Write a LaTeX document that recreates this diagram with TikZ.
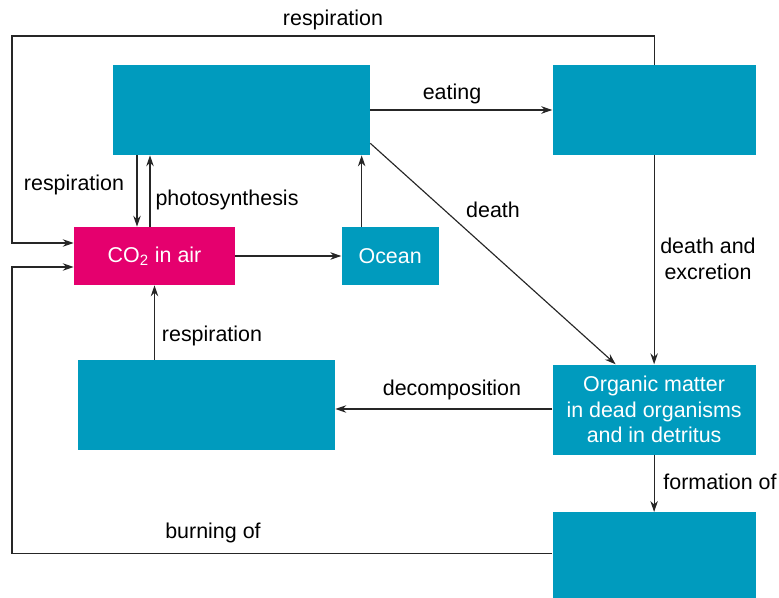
\documentclass[tikz,border=0pt]{standalone}
\usepackage{fontspec}
\setmainfont{Liberation Sans}
\usetikzlibrary{arrows.meta, positioning}
\definecolor{poolblue}{RGB}{0,155,190}
\definecolor{airpink}{RGB}{229,0,110}

\begin{document}
\begin{tikzpicture}[
    x=0.02cm, y=-0.02cm,
    font=\fontsize{12.2}{14.6}\selectfont,
    pool/.style ={fill=poolblue, text=white, inner sep=0pt, align=center},
    air/.style  ={fill=airpink, text=white, inner sep=0pt, align=center},
    lbl/.style  ={inner sep=0pt, align=center},
    arrow/.style={-{Stealth[length=0.22cm, width=0.15cm]}, line width=0.65pt, draw=black!85},
]
\useasboundingbox (0,0) rectangle (779,598);

% ── Pools ──────────────────────────────────────────────────────────────
\node[pool, minimum width=5.14cm, minimum height=1.8cm] (plants) at (241.5,110) {};
\node[pool, minimum width=4.06cm, minimum height=1.8cm, right=3.64cm of plants] (animals) {};
\node[air,  minimum width=3.22cm, minimum height=1.16cm] (co2) at (154.5,256) {CO\textsubscript{2} in air};
\node[pool, minimum width=1.94cm, minimum height=1.16cm, right=2.12cm of co2] (ocean) {Ocean};
\node[pool, minimum width=5.14cm, minimum height=1.8cm] (decomp) at (206.5,405) {};
\node[pool, minimum width=4.06cm, minimum height=1.8cm, below=4.18cm of animals] (organic)
      {Organic matter\\in dead organisms\\and in detritus};
\node[pool, minimum width=4.06cm, minimum height=1.74cm, below=1.14cm of organic] (fossil) {};

% ── Corners of the outer loops ─────────────────────────────────────────
\coordinate (loopTL) at (12,36);
\coordinate (loopBL) at (12,552);

% ── Labels ─────────────────────────────────────────────────────────────
\node[lbl] (l-resptop)  at (333,20)  {respiration};
\node[lbl] (l-eating)   at (452,94)  {eating};
\node[lbl] (l-respleft) at (74,185)  {respiration};
\node[lbl] (l-photo)    at (227,200) {photosynthesis};
\node[lbl] (l-death)    at (493,210) {death};
\node[lbl] (l-excr)     at (708,259) {death and\\excretion};
\node[lbl] (l-resplow)  at (212,336) {respiration};
\node[lbl] (l-decomp)   at (452,390) {decomposition};
\node[lbl] (l-form)     at (720,482) {formation of};
\node[lbl] (l-burn)     at (213,533) {burning of};

% ── Arrows ─────────────────────────────────────────────────────────────
\draw[arrow] (animals.north) |- (loopTL) |- ([yshift=0.26cm]co2.west);
\draw[arrow] ([yshift=0.05cm]fossil.west) -- ([yshift=0.05cm]fossil.west -| loopBL)
             |- ([yshift=-0.22cm]co2.west);
\draw[arrow] ([xshift=-0.35cm]co2.north |- plants.south) -- ([xshift=-0.35cm]co2.north);
\draw[arrow] ([xshift=-0.09cm]co2.north) -- ([xshift=-0.09cm]co2.north |- plants.south);
\draw[arrow] (co2.south |- decomp.north) -- (co2.south);
\draw[arrow] (co2.east) -- (ocean.west);
\draw[arrow] ([xshift=-0.57cm]ocean.north) -- ([xshift=-0.57cm]ocean.north |- plants.south);
\draw[arrow] (plants.east) -- (animals.west);
\draw[arrow] ([yshift=0.24cm]plants.south east) -- ([xshift=-0.77cm]organic.north);
\draw[arrow] (animals.south) -- (organic.north);
\draw[arrow] (organic.west |- 0,409) -- (decomp.east |- 0,409);
\draw[arrow] (organic.south) -- (fossil.north);

\end{tikzpicture}
\end{document}
